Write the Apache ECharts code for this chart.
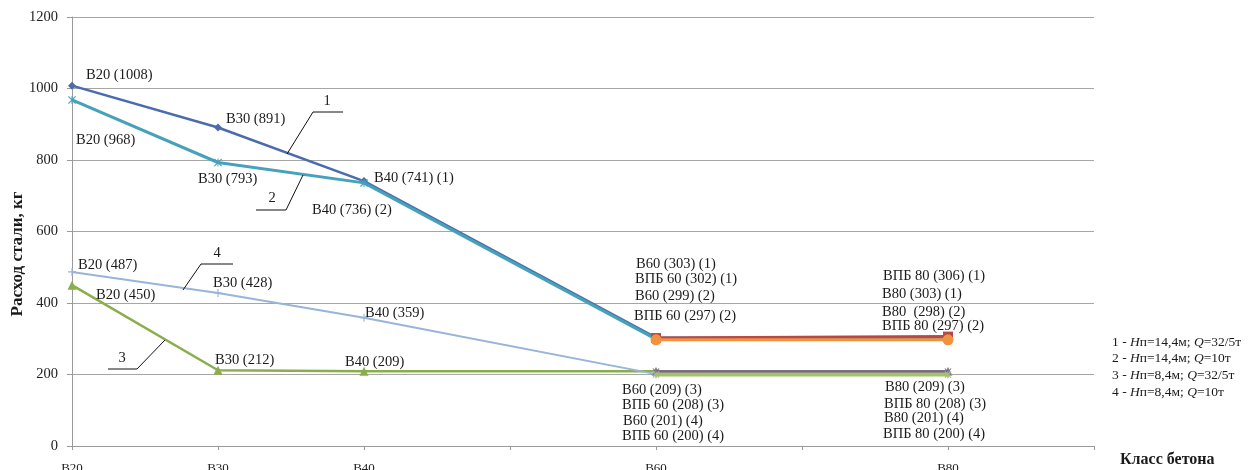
<!DOCTYPE html>
<html>
<head>
<meta charset="utf-8">
<script src="https://cdn.jsdelivr.net/npm/echarts@6/dist/echarts.min.js"></script>
<style>
  html, body { margin: 0; padding: 0; background: #ffffff; }
  #chart { width: 1251px; height: 470px; }
</style>
</head>
<body>
<div id="chart"></div>
<script>
// Concrete classes along the x axis (blank slots keep the class spacing)
const categories = ['В20', 'В30', 'В40', '', 'В60', '', 'В80', ''];

// Steel consumption, kg — series 1..4 for ordinary concrete
const s1 = [1008, 891, 741, null, 303, null, 303, null];
const s2 = [968, 793, 736, null, 299, null, 298, null];
const s3 = [450, 212, 209, null, 209, null, 209, null];
const s4 = [487, 428, 359, null, 201, null, 201, null];

// Steel consumption, kg — high-strength (ВПБ) concrete variants
const vpb1 = [null, null, null, null, 302, null, 306, null];
const vpb2 = [null, null, null, null, 297, null, 297, null];
const vpb3 = [null, null, null, null, 208, null, 208, null];
const vpb4 = [null, null, null, null, 200, null, 200, null];

// Value axis ticks
const yMin = 0, yMax = 1200, yStep = 200;

const SERIF = '"Liberation Serif", "DejaVu Serif", serif';
const TXT = '#1a1a1a';

const asterisk = 'path://M0,1 L1,0 L5,4 L9,0 L10,1 L6,5 L10,9 L9,10 L5,6 L1,10 L0,9 L4,5 Z M4.4,0 L5.6,0 L5.6,10 L4.4,10 Z';
const plus = 'path://M4.3,0 L5.7,0 L5.7,4.3 L10,4.3 L10,5.7 L5.7,5.7 L5.7,10 L4.3,10 L4.3,5.7 L0,5.7 L0,4.3 L4.3,4.3 Z';

function lineSeries(name, data, color, width, symbol, size, z) {
  return {
    name, type: 'line', data, connectNulls: true, z,
    symbol, symbolSize: size, showSymbol: true,
    lineStyle: { color, width },
    itemStyle: { color, borderWidth: 0 },
    emphasis: { disabled: true },
    animation: false
  };
}

const chart = echarts.init(document.getElementById('chart'), null, { renderer: 'canvas' });

chart.setOption({
  animation: false,
  backgroundColor: '#ffffff',
  grid: { left: 72, right: 157, top: 17, bottom: 24, containLabel: false, outerBoundsMode: 'none' },
  xAxis: {
    type: 'category',
    data: categories,
    boundaryGap: false,
    axisLine: { lineStyle: { color: '#9a9a9a', width: 1 } },
    axisTick: { show: true, alignWithLabel: true, length: 4, inside: false, lineStyle: { color: '#9a9a9a' }, interval: 0 },
    axisLabel: { interval: 0, margin: 16, fontFamily: SERIF, fontSize: 13, color: '#222' },
    splitLine: { show: false }
  },
  yAxis: {
    type: 'value',
    min: yMin, max: yMax, interval: yStep,
    axisLine: { show: true, lineStyle: { color: '#9a9a9a', width: 1 } },
    axisTick: { show: true, length: 5, lineStyle: { color: '#9a9a9a' } },
    axisLabel: { margin: 14, fontFamily: SERIF, fontSize: 14.5, color: '#222', formatter: v => String(v) },
    splitLine: { show: true, lineStyle: { color: '#a6a6a6', width: 1 } }
  },
  series: [
    lineSeries('1', s1, '#4A6CAD', 2.5, 'diamond', 8, 2),
    lineSeries('2', s2, '#46A1BA', 3, asterisk, 8, 3),
    lineSeries('ВПБ 1', vpb1, '#B8474A', 3, 'rect', 10, 4),
    lineSeries('ВПБ 2', vpb2, '#F0923F', 3, 'circle', 11, 5),
    lineSeries('3', s3, '#8BAE4C', 2.5, 'triangle', 9, 2),
    lineSeries('4', s4, '#98B4D8', 2, plus, 8, 3),
    lineSeries('ВПБ 3', vpb3, '#7A5E9E', 3, asterisk, 7, 4),
    lineSeries('ВПБ 4', vpb4, '#A3C267', 4, asterisk, 7, 5)
  ]
});

// Value captions: [series, slot, caption prefix, suffix, dx, dy] — dx/dy from the point
const notes = [
  [s1, 0, 'В20', '', 14, -12],
  [s2, 0, 'В20', '', 4, 39],
  [s1, 1, 'В30', '', 8, -10],
  [s2, 1, 'В30', '', -20, 15],
  [s1, 2, 'В40', ' (1)', 10, -4],
  [s2, 2, 'В40', ' (2)', -52, 26],
  [s4, 0, 'В20', '', 6, -8],
  [s3, 0, 'В20', '', 24, 9],
  [s4, 1, 'В30', '', -5, -11],
  [s4, 2, 'В40', '', 1, -6],
  [s3, 1, 'В30', '', -3, -12],
  [s3, 2, 'В40', '', -19, -11],

  [s1, 4, 'В60', ' (1)', -20, -75],
  [vpb1, 4, 'ВПБ 60', ' (1)', -21, -60],
  [s2, 4, 'В60', ' (2)', -21, -44],
  [vpb2, 4, 'ВПБ 60', ' (2)', -22, -25],
  [s3, 4, 'В60', ' (3)', -34, 17],
  [vpb3, 4, 'ВПБ 60', ' (3)', -34, 32],
  [s4, 4, 'В60', ' (4)', -33, 46],
  [vpb4, 4, 'ВПБ 60', ' (4)', -34, 60],

  [vpb1, 6, 'ВПБ 80', ' (1)', -65, -62],
  [s1, 6, 'В80', ' (1)', -66, -45],
  [s2, 6, 'В80 ', ' (2)', -66, -29],
  [vpb2, 6, 'ВПБ 80', ' (2)', -66, -15],
  [s3, 6, 'В80', ' (3)', -63, 14],
  [vpb3, 6, 'ВПБ 80', ' (3)', -64, 31],
  [s4, 6, 'В80', ' (4)', -64, 43],
  [vpb4, 6, 'ВПБ 80', ' (4)', -65, 58]
];

// Small baseline correction so the caption's visual centre sits where intended
const TEXT_SHIFT = 1.5;

const px = (i, v) => chart.convertToPixel({ gridIndex: 0 }, [i, v]);

const graphics = notes.map(([arr, i, pre, suf, dx, dy]) => {
  const p = px(i, arr[i]);
  return {
    type: 'text', x: p[0] + dx, y: p[1] + dy + TEXT_SHIFT, z: 10, silent: true,
    style: {
      text: pre + ' (' + arr[i] + ')' + suf,
      font: '14.5px ' + SERIF, fill: TXT,
      align: 'left', verticalAlign: 'middle'
    }
  };
});

// Leader lines with series numbers
const leaders = [
  { pts: [[287, 154], [313, 112], [343, 112]], label: '1', lx: 327, ly: 101 },
  { pts: [[303, 175], [286, 210], [256, 210]], label: '2', lx: 272, ly: 198 },
  { pts: [[165, 340], [137, 369], [108, 369]], label: '3', lx: 122, ly: 358 },
  { pts: [[183, 290], [201, 264], [233, 264]], label: '4', lx: 217, ly: 253 }
];
leaders.forEach(l => {
  graphics.push({
    type: 'polyline', z: 10, silent: true,
    shape: { points: l.pts },
    style: { stroke: '#111', lineWidth: 1, fill: null }
  });
  graphics.push({
    type: 'text', x: l.lx, y: l.ly, z: 10, silent: true,
    style: { text: l.label, font: '14.5px ' + SERIF, fill: TXT, align: 'center', verticalAlign: 'middle' }
  });
});

// Axis titles
graphics.push({
  type: 'text', x: 18, y: 254, rotation: Math.PI / 2, z: 10, silent: true,
  style: { text: 'Расход стали, кг', font: 'bold 17px ' + SERIF, fill: TXT, align: 'center', verticalAlign: 'middle' }
});
graphics.push({
  type: 'text', x: 1120, y: 460, z: 10, silent: true,
  style: { text: 'Класс бетона', font: 'bold 16px ' + SERIF, fill: TXT, align: 'left', verticalAlign: 'middle' }
});

// Key to the series numbers
const keyLines = [
  '1 - {i|H}п=14,4м; {i|Q}=32/5т',
  '2 - {i|H}п=14,4м; {i|Q}=10т',
  '3 - {i|H}п=8,4м; {i|Q}=32/5т',
  '4 - {i|H}п=8,4м; {i|Q}=10т'
];
keyLines.forEach((t, k) => {
  graphics.push({
    type: 'text', x: 1112, y: 342 + k * 16.8, z: 10, silent: true,
    style: {
      text: t, font: '13.5px ' + SERIF, fill: TXT, align: 'left', verticalAlign: 'middle',
      rich: { i: { fontStyle: 'italic', fontFamily: SERIF, fontSize: 13.5, fill: TXT } }
    }
  });
});

chart.setOption({ graphic: graphics });
</script>
</body>
</html>
